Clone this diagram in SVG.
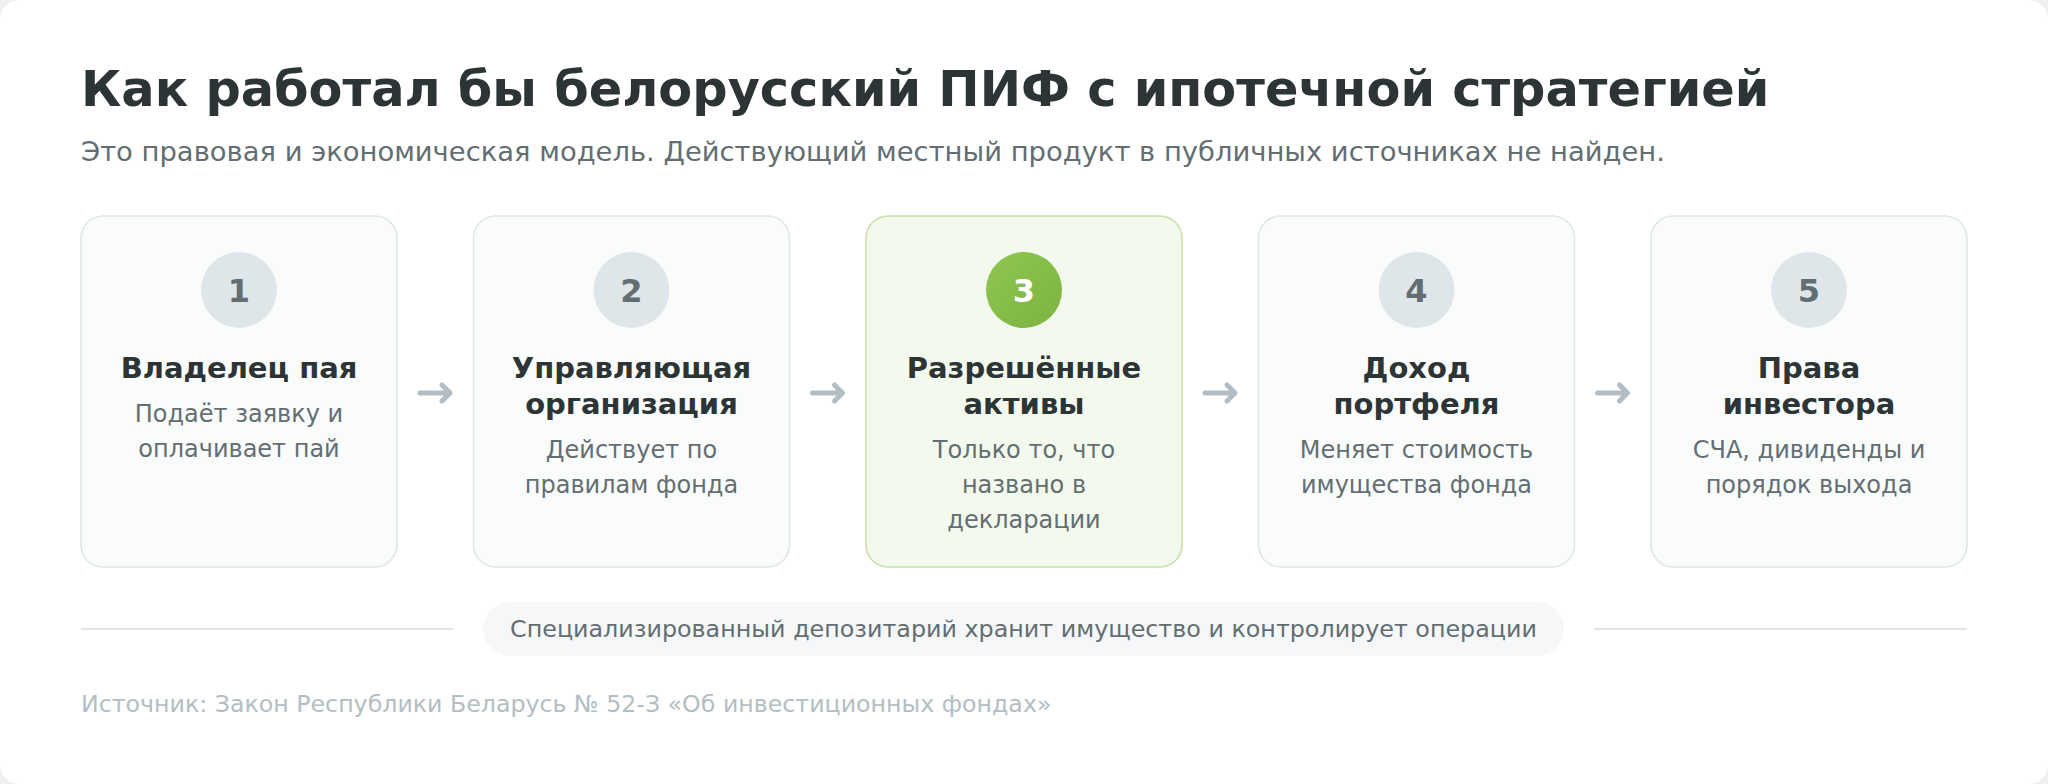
<svg xmlns="http://www.w3.org/2000/svg" width="2048" height="784" viewBox="0 0 2048 784">
<defs>
<style>
text{font-family:"DejaVu Sans","Liberation Sans",sans-serif}
.title{font-size:49.4px;font-weight:bold;fill:#2d3436}
.sub{font-size:27.4px;fill:#636e72}
.card{fill:#fafbfb;stroke:#dfe6e9;stroke-width:1.5}
.card.hl{fill:#f3f9ec;stroke:#c5e1a5}
.num-bg{fill:#dfe6e9}
.num{font-size:32px;font-weight:bold;fill:#636e72;text-anchor:middle}
.num.hl{fill:#ffffff}
.ct{font-size:29px;font-weight:bold;fill:#2d3436;text-anchor:middle}
.cd{font-size:24px;fill:#636e72;text-anchor:middle}
.arrow{fill:none;stroke:#b2bec3;stroke-width:5;stroke-linecap:round;stroke-linejoin:round}
.rule{stroke:#dfe6e9;stroke-width:2}
.pill{fill:#f5f7f8}
.pt{font-size:23.8px;fill:#636e72;text-anchor:middle}
.src{font-size:23.7px;fill:#b2bec3}
</style>
<linearGradient id="g3" x1="0" y1="0" x2="1" y2="1">
<stop offset="0" stop-color="#8fc751"/>
<stop offset="1" stop-color="#7cb342"/>
</linearGradient>
</defs>
<rect x="0" y="0" width="2048" height="784" fill="#eef0f1"/>
<rect x="0" y="0" width="2048" height="784" rx="20" fill="#ffffff"/>
<text class="title" x="81" y="106">Как работал бы белорусский ПИФ с ипотечной стратегией</text>
<text class="sub" x="81" y="161">Это правовая и экономическая модель. Действующий местный продукт в публичных источниках не найден.</text>

<g id="node1">
<rect class="card" x="81" y="216" width="316" height="351" rx="22"/>
<circle class="num-bg" cx="239" cy="290" r="38"/>
<text class="num" x="239" y="302">1</text>
<text class="ct" x="239" y="378">Владелец пая</text>
<text class="cd" x="239" y="422">Подаёт заявку и</text>
<text class="cd" x="239" y="457">оплачивает пай</text>
</g>
<g id="node2">
<rect class="card" x="473.5" y="216" width="316" height="351" rx="22"/>
<circle class="num-bg" cx="631.5" cy="290" r="38"/>
<text class="num" x="631.5" y="302">2</text>
<text class="ct" x="631.5" y="378">Управляющая</text>
<text class="ct" x="631.5" y="414">организация</text>
<text class="cd" x="631.5" y="458">Действует по</text>
<text class="cd" x="631.5" y="493">правилам фонда</text>
</g>
<g id="node3">
<rect class="card hl" x="866" y="216" width="316" height="351" rx="22"/>
<circle cx="1024" cy="290" r="38" fill="url(#g3)"/>
<text class="num hl" x="1024" y="302">3</text>
<text class="ct" x="1024" y="378">Разрешённые</text>
<text class="ct" x="1024" y="414">активы</text>
<text class="cd" x="1024" y="458">Только то, что</text>
<text class="cd" x="1024" y="493">названо в</text>
<text class="cd" x="1024" y="528">декларации</text>
</g>
<g id="node4">
<rect class="card" x="1258.5" y="216" width="316" height="351" rx="22"/>
<circle class="num-bg" cx="1416.5" cy="290" r="38"/>
<text class="num" x="1416.5" y="302">4</text>
<text class="ct" x="1416.5" y="378">Доход</text>
<text class="ct" x="1416.5" y="414">портфеля</text>
<text class="cd" x="1416.5" y="458">Меняет стоимость</text>
<text class="cd" x="1416.5" y="493">имущества фонда</text>
</g>
<g id="node5">
<rect class="card" x="1651" y="216" width="316" height="351" rx="22"/>
<circle class="num-bg" cx="1809" cy="290" r="38"/>
<text class="num" x="1809" y="302">5</text>
<text class="ct" x="1809" y="378">Права</text>
<text class="ct" x="1809" y="414">инвестора</text>
<text class="cd" x="1809" y="458">СЧА, дивиденды и</text>
<text class="cd" x="1809" y="493">порядок выхода</text>
</g>

<g id="connectors">
<path class="arrow" d="M420 393 H450 M442 385 L450 393 L442 401"/>
<path class="arrow" d="M812.5 393 H842.5 M834.5 385 L842.5 393 L834.5 401"/>
<path class="arrow" d="M1205 393 H1235 M1227 385 L1235 393 L1227 401"/>
<path class="arrow" d="M1597.5 393 H1627.5 M1619.5 385 L1627.5 393 L1619.5 401"/>
</g>

<g id="depositary">
<line class="rule" x1="81" y1="629" x2="453" y2="629"/>
<line class="rule" x1="1594" y1="629" x2="1967" y2="629"/>
<rect class="pill" x="483" y="602" width="1081" height="54" rx="27"/>
<text class="pt" x="1023.5" y="637">Специализированный депозитарий хранит имущество и контролирует операции</text>
</g>
<text class="src" x="81" y="712">Источник: Закон Республики Беларусь № 52-З «Об инвестиционных фондах»</text>
</svg>
